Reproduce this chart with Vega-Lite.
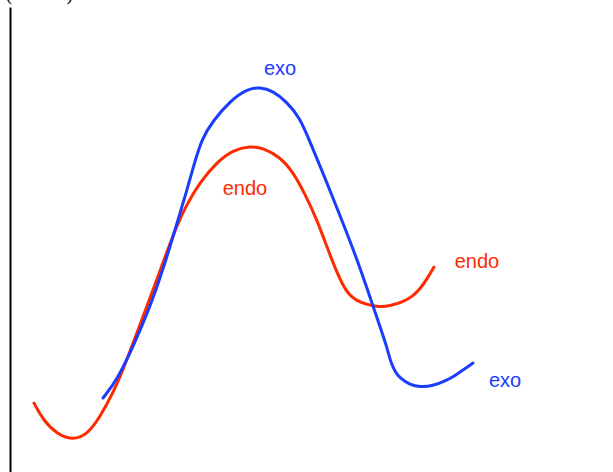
{
  "$schema": "https://vega.github.io/schema/vega-lite/v6.json",
  "autosize": "none",
  "padding": {"left": 10, "top": 7, "right": 0, "bottom": 0},
  "width": 603,
  "height": 465,
  "background": "white",
  "config": {"view": {"stroke": null}},
  "datasets": {
    "curves": [
      {"series": "endo", "x": 24, "e": 69},
      {"series": "endo", "x": 33, "e": 52},
      {"series": "endo", "x": 47, "e": 38},
      {"series": "endo", "x": 62, "e": 32},
      {"series": "endo", "x": 77, "e": 37},
      {"series": "endo", "x": 90, "e": 55},
      {"series": "endo", "x": 103, "e": 79},
      {"series": "endo", "x": 113, "e": 102},
      {"series": "endo", "x": 128, "e": 142},
      {"series": "endo", "x": 143, "e": 182},
      {"series": "endo", "x": 155, "e": 215},
      {"series": "endo", "x": 167, "e": 247},
      {"series": "endo", "x": 177, "e": 268},
      {"series": "endo", "x": 190, "e": 290},
      {"series": "endo", "x": 207, "e": 310},
      {"series": "endo", "x": 223, "e": 322},
      {"series": "endo", "x": 240, "e": 326},
      {"series": "endo", "x": 253, "e": 324},
      {"series": "endo", "x": 270, "e": 315},
      {"series": "endo", "x": 283, "e": 300},
      {"series": "endo", "x": 295, "e": 278},
      {"series": "endo", "x": 307, "e": 252},
      {"series": "endo", "x": 317, "e": 225},
      {"series": "endo", "x": 327, "e": 199},
      {"series": "endo", "x": 337, "e": 178},
      {"series": "endo", "x": 350, "e": 169},
      {"series": "endo", "x": 367, "e": 165},
      {"series": "endo", "x": 380, "e": 166},
      {"series": "endo", "x": 393, "e": 170},
      {"series": "endo", "x": 403, "e": 176},
      {"series": "endo", "x": 410, "e": 183},
      {"series": "endo", "x": 417, "e": 193},
      {"series": "endo", "x": 424, "e": 205},
      {"series": "exo", "x": 93, "e": 74},
      {"series": "exo", "x": 107, "e": 92},
      {"series": "exo", "x": 123, "e": 125},
      {"series": "exo", "x": 140, "e": 165},
      {"series": "exo", "x": 153, "e": 202},
      {"series": "exo", "x": 167, "e": 249},
      {"series": "exo", "x": 177, "e": 282},
      {"series": "exo", "x": 183, "e": 304},
      {"series": "exo", "x": 192, "e": 334},
      {"series": "exo", "x": 203, "e": 351},
      {"series": "exo", "x": 220, "e": 371},
      {"series": "exo", "x": 237, "e": 383},
      {"series": "exo", "x": 250, "e": 385},
      {"series": "exo", "x": 263, "e": 381},
      {"series": "exo", "x": 277, "e": 370},
      {"series": "exo", "x": 290, "e": 354},
      {"series": "exo", "x": 300, "e": 330},
      {"series": "exo", "x": 313, "e": 299},
      {"series": "exo", "x": 333, "e": 249},
      {"series": "exo", "x": 350, "e": 205},
      {"series": "exo", "x": 367, "e": 154},
      {"series": "exo", "x": 377, "e": 125},
      {"series": "exo", "x": 380, "e": 112},
      {"series": "exo", "x": 385, "e": 100},
      {"series": "exo", "x": 390, "e": 94},
      {"series": "exo", "x": 400, "e": 87},
      {"series": "exo", "x": 410, "e": 85},
      {"series": "exo", "x": 423, "e": 86},
      {"series": "exo", "x": 435, "e": 91},
      {"series": "exo", "x": 443, "e": 95},
      {"series": "exo", "x": 453, "e": 102},
      {"series": "exo", "x": 463, "e": 109}
    ],
    "labels": [
      {"series": "exo", "text": "exo", "x": 270, "e": 397},
      {"series": "endo", "text": "endo", "x": 235, "e": 277},
      {"series": "endo", "text": "endo", "x": 467, "e": 204},
      {"series": "exo", "text": "exo", "x": 495, "e": 85}
    ]
  },
  "layer": [
    {
      "data": {"name": "curves"},
      "mark": {"type": "line", "strokeWidth": 3, "interpolate": "basis", "strokeCap": "round"},
      "encoding": {
        "x": {"field": "x", "type": "quantitative", "scale": {"domain": [0, 603], "nice": false}, "axis": null},
        "y": {
          "field": "e", "type": "quantitative", "scale": {"domain": [0, 465], "nice": false},
          "axis": {
            "domain": true, "domainColor": "black", "domainWidth": 2,
            "ticks": false, "labels": false, "grid": false,
            "title": "(kJ/mol)", "titleAngle": 0, "titleX": -5, "titleY": -8,
            "titleAlign": "left", "titleBaseline": "alphabetic",
            "titleFont": "Liberation Serif", "titleFontSize": 20, "titleFontWeight": "normal", "titleColor": "black"
          }
        },
        "color": {"field": "series", "type": "nominal", "scale": {"domain": ["endo", "exo"], "range": ["#ff2a00", "#1a3cff"]}, "legend": null},
        "detail": {"field": "series"}
      }
    },
    {
      "data": {"name": "labels"},
      "mark": {"type": "text", "font": "Liberation Sans", "fontSize": 20, "align": "center", "baseline": "alphabetic"},
      "encoding": {
        "x": {"field": "x", "type": "quantitative"},
        "y": {"field": "e", "type": "quantitative"},
        "text": {"field": "text"},
        "color": {"field": "series", "type": "nominal", "scale": {"domain": ["endo", "exo"], "range": ["#ff2a00", "#1a3cff"]}, "legend": null}
      }
    }
  ]
}
